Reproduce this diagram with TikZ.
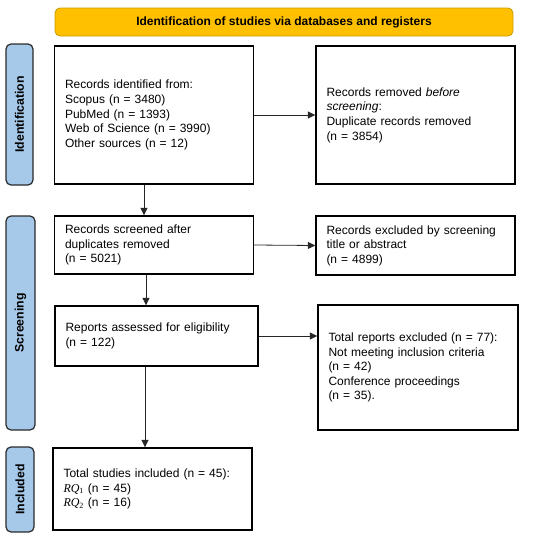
\documentclass[tikz,border=0pt]{standalone}
\usepackage{fontspec}
\setmainfont{Liberation Sans}
\newfontfamily\rqfont{Liberation Serif}
\newcommand{\rqlabel}[1]{{\rqfont\itshape RQ}{\rqfont\textsubscript{#1}}}
\usetikzlibrary{arrows.meta}
\definecolor{hdrfill}{HTML}{FFC000}
\definecolor{hdrdraw}{HTML}{C99A00}
\definecolor{sidefill}{HTML}{A6C8E9}
\definecolor{sidedraw}{HTML}{2B2B2B}
\begin{document}
\begin{tikzpicture}[x=1pt,y=-1pt,
  box/.style={draw=black,line width=1.4pt,rectangle,inner sep=0pt,align=left,
    font=\fontsize{12}{14.6}\selectfont},
  hdr/.style={draw=hdrdraw,fill=hdrfill,line width=0.8pt,rounded corners=5pt,
    inner sep=0pt,font=\fontsize{12}{14}\selectfont\bfseries},
  side/.style={draw=sidedraw,fill=sidefill,line width=1.2pt,rounded corners=5pt,
    inner sep=0pt},
  sidetext/.style={rotate=90,font=\fontsize{12.3}{14}\selectfont\bfseries},
  arr/.style={draw=black!85,line width=0.8pt,-{Triangle[length=7.5pt,width=7pt]}}
]
\useasboundingbox (0,0) rectangle (550,538);
% header
\node[hdr,minimum width=458pt,minimum height=28pt] (hdr) at (284,22)
  {Identification of studies via databases and registers};
% side labels
\node[side,minimum width=27pt,minimum height=141pt] (sid) at (19.5,114.5) {};
\node[sidetext] (sidt) at (sid.center) {Identification};
\node[side,minimum width=29pt,minimum height=214pt] (ssc) at (20.5,323) {};
\node[sidetext] (ssct) at (ssc.center) {Screening};
\node[side,minimum width=28pt,minimum height=85pt] (sin) at (20,489.5) {};
\node[sidetext] (sint) at (sin.center) {Included};
% boxes
\node[box,minimum width=199pt,minimum height=138pt,text width=178pt] (b1) at (154,115)
  {Records identified from:\\Scopus (n = 3480)\\PubMed (n = 1393)\\Web of Science (n = 3990)\\Other sources (n = 12)};
\node[box,minimum width=199pt,minimum height=138pt,text width=178pt] (b2) at (415.5,115)
  {Records removed \emph{before}\\\emph{screening}:\\Duplicate records removed\\(n = 3854)};
\node[box,minimum width=199pt,minimum height=58pt,text width=178pt] (b3) at (154,245)
  {Records screened after\\duplicates removed\\(n = 5021)};
\node[box,minimum width=199pt,minimum height=59pt,text width=178pt] (b4) at (415.5,245.5)
  {Records excluded by screening\\title or abstract\\(n = 4899)};
\node[box,minimum width=203pt,minimum height=60pt,text width=182pt] (b5) at (156.5,336)
  {Reports assessed for eligibility\\(n = 122)};
\node[box,minimum width=200pt,minimum height=125pt,text width=179pt] (b6) at (418,367.5)
  {Total reports excluded (n = 77):\\Not meeting inclusion criteria\\(n = 42)\\Conference proceedings\\(n = 35).};
\node[box,minimum width=199pt,minimum height=82pt,text width=178pt] (b7) at (152.5,489)
  {Total studies included (n = 45):\\\rqlabel{1} (n = 45)\\\rqlabel{2} (n = 16)};
% arrows
\draw[arr] (b1.east) -- (b2.west);
\draw[arr] (b1.south -| 144,0) -- (b3.north -| 144,0);
\draw[arr] (b3.east) -- (b4.west);
\draw[arr] (b3.south -| 146,0) -- (b5.north -| 146,0);
\draw[arr] (b5.east) -- (b6.west |- b5.east);
\draw[arr] (b5.south -| 145,0) -- (b7.north -| 145,0);
\end{tikzpicture}
\end{document}
